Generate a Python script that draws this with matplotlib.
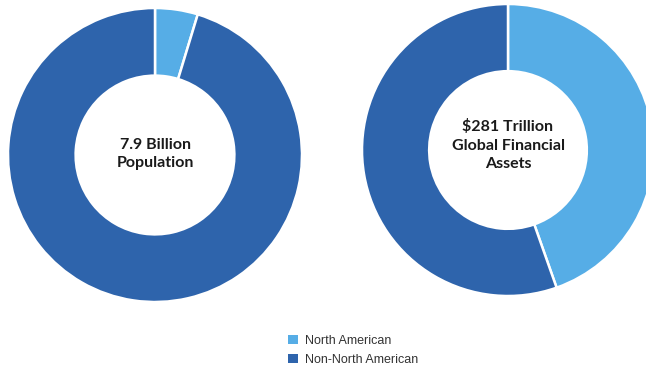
import matplotlib.pyplot as plt
from matplotlib.patches import Patch

# Data
categories = ["North American", "Non-North American"]
population_share = [4.7, 95.3]          # % of 7.9 billion people
assets_share = [44.6, 55.4]             # % of $281 trillion financial assets
center_labels = ["7.9 Billion\nPopulation", "$281 Trillion\nGlobal Financial\nAssets"]

COLORS = ["#56ADE6", "#2E64AC"]

fig = plt.figure(figsize=(6.46, 3.68), dpi=100)
ax = fig.add_axes([0, 0, 1, 1])

# Pixel-like coordinates, y pointing down
donuts = [
    {"values": population_share, "center": (155, 155), "radius": 147, "text_y": 154},
    {"values": assets_share, "center": (508, 150), "radius": 146, "text_y": 145},
]
wedges = None
for donut, label in zip(donuts, center_labels):
    cx, cy = donut["center"]
    w, _ = ax.pie(donut["values"], colors=COLORS, startangle=90, counterclock=False,
                  center=(cx, -cy), radius=donut["radius"],
                  wedgeprops=dict(width=donut["radius"] * 0.46, edgecolor="white", linewidth=1.8))
    if wedges is None:
        wedges = w
    ax.text(cx, -donut["text_y"], label, ha="center", va="center", fontsize=11.5,
            fontweight="bold", family="Lato", color="#1a1a1a", linespacing=1.4)

ax.set_xlim(0, 646)
ax.set_ylim(-368, 0)
ax.set_aspect("equal")
ax.axis("off")

handles = [Patch(facecolor=c, edgecolor="none") for c in COLORS]
fig.legend(handles, categories, loc="upper left", bbox_to_anchor=(277 / 646, 1 - 324 / 368),
           frameon=False, handlelength=0.75, handleheight=0.75, handletextpad=0.6,
           labelspacing=0.55, prop={"family": "Liberation Sans", "size": 9})
for t in fig.legends[0].get_texts():
    t.set_color("#333333")

fig.savefig("out.png", dpi=100)
